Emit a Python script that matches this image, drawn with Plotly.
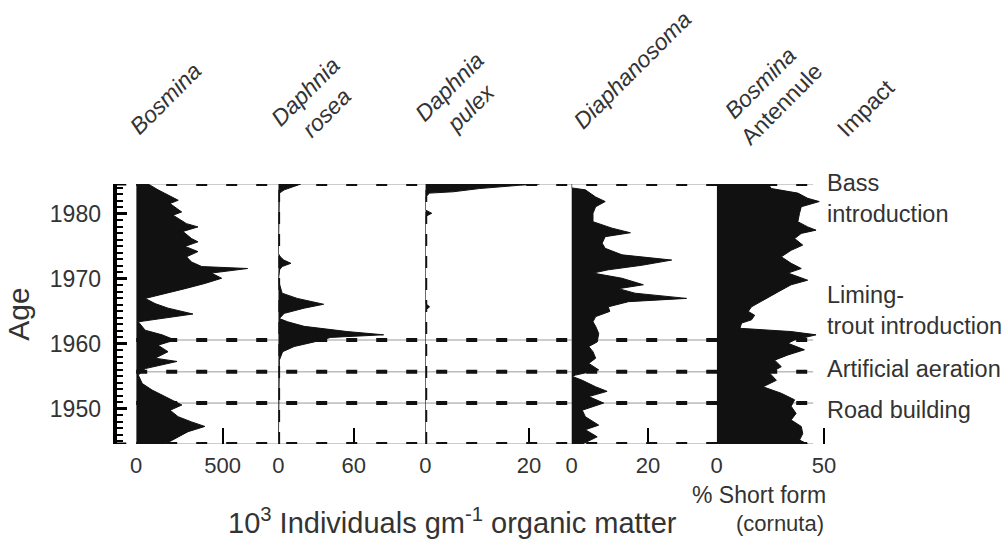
import plotly.graph_objects as go

W, H = 1004, 546

# ---------------- data ----------------
bosmina_year = [1984.6, 1983.7, 1982.1, 1981.6, 1980.3, 1979.8, 1978.5, 1978.0, 1977.3, 1976.2,
                1975.7, 1975.0, 1974.2, 1973.4, 1972.6, 1971.9, 1971.6, 1970.9, 1970.1, 1969.3,
                1968.5, 1967.8, 1967.0, 1966.2, 1965.5, 1964.6, 1963.9, 1963.4, 1962.1, 1961.4,
                1960.6, 1959.8, 1958.8, 1957.8, 1957.3, 1956.2, 1955.2, 1953.9, 1952.9, 1951.4,
                1950.6, 1949.8, 1948.8, 1948.0, 1947.3, 1946.5, 1945.7, 1944.6]
bosmina_val = [69, 126, 243, 195, 263, 213, 291, 357, 270, 320,
               357, 282, 357, 291, 320, 379, 644, 435, 494, 397,
               282, 167, 52, 109, 184, 328, 126, 12, 52, 149,
               224, 126, 184, 109, 236, 52, 12, 35, 92, 207,
               264, 196, 242, 320, 397, 300, 242, 167]

rosea_year = [1984.6, 1984.2, 1983.7, 1983.2, 1973.9, 1973.4, 1972.9, 1972.4, 1971.9, 1971.4,
              1969.8, 1967.8, 1967.0, 1966.1, 1965.5, 1964.7, 1963.9, 1963.4, 1962.7, 1961.9,
              1961.4, 1961.0, 1960.3, 1959.6, 1958.8, 1957.5, 1952.0, 1944.6]
rosea_val = [17.9, 12.6, 4.7, 0.8, 0.0, 1.5, 4.3, 10.0, 3.0, 1.0,
             0.0, 3.0, 15.0, 36.0, 20.5, 4.7, 0.8, 7.4, 20.5, 54.7,
             83.7, 41.6, 28.4, 12.6, 3.4, 0.8, 0.5, 0.0]

pulex_year = [1984.6, 1984.4, 1983.9, 1983.4, 1983.2, 1982.6, 1980.6, 1980.1, 1979.6,
              1966.2, 1965.7, 1965.2, 1944.6]
pulex_val = [22.0, 18.0, 10.4, 5.3, 0.8, 0.0, 0.0, 1.2, 0.0,
             0.0, 0.8, 0.0, 0.0]

diaph_year = [1984.6, 1984.0, 1983.7, 1982.6, 1981.9, 1981.1, 1980.1, 1978.8, 1977.8, 1977.1,
              1976.5, 1975.5, 1974.7, 1973.7, 1972.9, 1972.1, 1971.4, 1970.9, 1970.1, 1969.1,
              1968.5, 1967.8, 1967.0, 1966.5, 1965.7, 1965.0, 1964.2, 1963.4, 1962.7, 1961.6,
              1960.3, 1959.6, 1958.8, 1957.8, 1957.0, 1956.0, 1955.2, 1955.0, 1954.4, 1953.4,
              1952.7, 1951.9, 1950.9, 1949.8, 1948.8, 1947.5, 1946.8, 1945.7, 1944.6]
diaph_val = [0.0, 0.0, 3.6, 6.3, 8.8, 6.3, 5.6, 5.6, 10.6, 15.4,
             8.8, 8.0, 8.8, 13.2, 26.2, 18.4, 9.6, 5.6, 13.2, 18.8,
             12.3, 16.6, 30.1, 14.9, 9.6, 10.0, 6.3, 5.6, 6.3, 7.1,
             6.7, 4.5, 5.6, 6.3, 4.5, 7.1, 1.0, 0.2, 2.8, 6.3,
             9.3, 4.5, 8.4, 2.8, 3.6, 7.1, 3.6, 6.7, 2.8]

antennule_year = [1984.6, 1983.9, 1983.2, 1982.4, 1981.9, 1981.1, 1980.1, 1978.8, 1978.0, 1977.5,
                  1977.0, 1976.2, 1975.2, 1974.4, 1973.4, 1972.4, 1971.6, 1970.9, 1969.8, 1969.1,
                  1968.0, 1966.8, 1965.7, 1965.0, 1964.4, 1963.7, 1963.2, 1962.4, 1961.9, 1961.4,
                  1960.6, 1960.1, 1959.1, 1958.3, 1957.5, 1956.5, 1955.5, 1954.4, 1953.4, 1952.4,
                  1951.4, 1950.4, 1949.3, 1948.3, 1947.3, 1946.2, 1945.2, 1944.6]
antennule_val = [23.9, 25.5, 37.8, 42.4, 47.8, 39.4, 38.6, 37.8, 42.4, 46.3,
                 39.4, 36.3, 40.1, 34.7, 30.1, 34.7, 39.4, 33.2, 42.4, 34.7,
                 28.6, 22.4, 16.2, 14.7, 17.7, 16.2, 11.6, 10.8, 34.7, 46.3,
                 36.3, 33.2, 40.9, 33.2, 27.0, 30.1, 24.7, 27.8, 21.6, 30.1,
                 36.3, 34.7, 37.0, 34.7, 39.4, 40.1, 38.6, 42.4]

panel_titles = ["<i>Bosmina</i>", "<i>Daphnia</i><br><i>rosea</i>", "<i>Daphnia</i><br><i>pulex</i>",
                "<i>Diaphanosoma</i>", "<i>Bosmina</i><br>Antennule", "Impact"]
panel_ticks = [[0, 500], [0, 60], [0, 20], [0, 20], [0, 50]]
panel_ranges = [[0, 822], [0, 117], [0, 28.2], [0, 38], [0, 55.6]]

year_range = [1944.6, 1984.6]
year_ticks = [1950, 1960, 1970, 1980]

event_years = [1984.6, 1960.6, 1955.7, 1950.9, 1944.6]
impact_labels = ["Bass<br>introduction", "Liming-<br>trout introduction", "Artificial aeration", "Road building"]
impact_label_years = [1982.3, 1965.1, 1956.1, 1949.8]

# ---------------- layout helpers ----------------
def px(x):
    return x / W

def py(y):
    return 1 - y / H

FONT = "Liberation Sans, Arial, sans-serif"
TXT = "#333333"

panel_px = [(131, 274), (274, 422), (422, 569), (569, 715), (715, 835)]
series = [(bosmina_val, bosmina_year), (rosea_val, rosea_year), (pulex_val, pulex_year),
          (diaph_val, diaph_year), (antennule_val, antennule_year)]

fig = go.Figure()
for i, (vals, yrs) in enumerate(series):
    xa = "x" if i == 0 else f"x{i+1}"
    fig.add_trace(go.Scatter(x=vals, y=yrs, xaxis=xa, yaxis="y", mode="lines",
                             fill="tozerox", fillcolor="#111111",
                             line=dict(color="#111111", width=1), hoverinfo="skip"))

layout = dict(
    width=W, height=H, margin=dict(l=0, r=0, t=0, b=0),
    paper_bgcolor="white", plot_bgcolor="white", showlegend=False,
    font=dict(family=FONT, color=TXT),
    yaxis=dict(anchor="free", position=px(110), domain=[py(444), py(184)],
               range=year_range, tickvals=year_ticks,
               ticks="inside", ticklen=10, tickwidth=2.5, tickcolor="black",
               showline=True, linewidth=3.5, linecolor="black", showgrid=False, zeroline=False,
               tickfont=dict(size=23, color=TXT, family=FONT), ticklabelstandoff=8,
               minor=dict(dtick=1, tick0=1945, ticks="inside", ticklen=6, tickwidth=1.5,
                          tickcolor="black"),
               title=dict(text="Age", font=dict(size=30, color=TXT, family=FONT), standoff=10)),
)
for i, (l, r) in enumerate(panel_px):
    key = "xaxis" if i == 0 else f"xaxis{i+1}"
    layout[key] = dict(domain=[px(l), px(r)], range=panel_ranges[i], anchor="y",
                       tickvals=panel_ticks[i], ticks="inside", ticklen=16, tickwidth=2,
                       tickcolor="black", showline=False, showgrid=False, zeroline=False,
                       tickfont=dict(size=22, color=TXT, family=FONT), ticklabelstandoff=6)
fig.update_layout(**layout)

shapes = []
# baselines of panels
for xa in ["x2", "x3", "x4"]:
    shapes.append(dict(type="line", xref=xa, x0=0, x1=0, yref="y", y0=year_range[0], y1=year_range[1],
                       line=dict(color="#999999", width=1), layer="below"))
for xa in ["x2", "x3"]:
    shapes.append(dict(type="line", xref=xa, x0=0, x1=0, yref="y", y0=year_range[0], y1=year_range[1],
                       line=dict(color="#111111", width=3.5, dash="12px,10px"), layer="above"))
# end caps of the age axis
for ey in year_range:
    shapes.append(dict(type="line", xref="paper", x0=px(110), x1=px(121), yref="y", y0=ey, y1=ey,
                       line=dict(color="black", width=3), layer="above"))
# event lines
for ey in event_years:
    shapes.append(dict(type="line", xref="paper", x0=px(131), x1=px(812), yref="y", y0=ey, y1=ey,
                       line=dict(color="#999999", width=1), layer="below"))
    shapes.append(dict(type="line", xref="paper", x0=px(131), x1=px(812), yref="y", y0=ey, y1=ey,
                       line=dict(color="#111111", width=4, dash="11px,19px"), layer="above"))
fig.update_layout(shapes=shapes)

ann = []
title_pos = [(160, 99), (312, 102), (457, 97), (630, 70), (770, 93), (865, 108)]
for t, (cx, cy) in zip(panel_titles, title_pos):
    ann.append(dict(text=t, xref="paper", yref="paper", x=px(cx), y=py(cy), xanchor="center",
                    yanchor="middle", textangle=-45, showarrow=False, align="center",
                    font=dict(size=23, color=TXT, family=FONT)))
for t, yy in zip(impact_labels, impact_label_years):
    ann.append(dict(text=t, xref="paper", yref="y", x=px(824), y=yy, xanchor="left",
                    yanchor="middle", showarrow=False, align="left",
                    font=dict(size=23.5, color=TXT, family=FONT)))
ann.append(dict(text="10<sup>3</sup> Individuals gm<sup>-1</sup> organic matter", xref="paper", yref="paper",
                x=px(449), y=py(521), xanchor="center", yanchor="middle", showarrow=False,
                font=dict(size=29, color=TXT, family=FONT)))
ann.append(dict(text="% Short form", xref="paper", yref="paper", x=px(827), y=py(495),
                xanchor="right", yanchor="middle", showarrow=False,
                font=dict(size=23, color=TXT, family=FONT)))
ann.append(dict(text="(cornuta)", xref="paper", yref="paper", x=px(825), y=py(523),
                xanchor="right", yanchor="middle", showarrow=False,
                font=dict(size=22, color=TXT, family=FONT)))
fig.update_layout(annotations=ann)

fig.write_html("out.html")
